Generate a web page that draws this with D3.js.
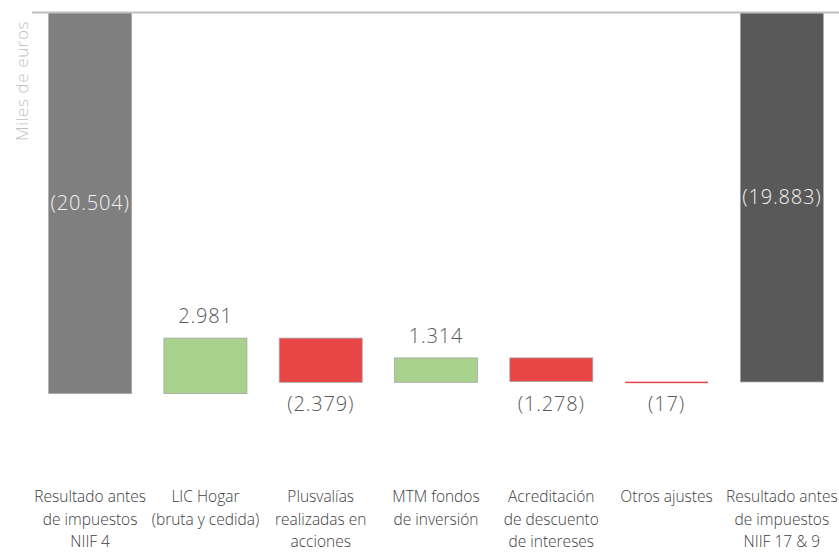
<!DOCTYPE html>
<html>
<head>
<meta charset="utf-8">
<script src="https://cdn.jsdelivr.net/npm/d3@7"></script>
<style>
  html, body { margin: 0; padding: 0; background: #fff; }
  svg { display: block; font-family: "Open Sans", "DejaVu Sans", sans-serif; }
</style>
</head>
<body>
<div id="chart"></div>
<script>
/* Waterfall: Resultado antes de impuestos NIIF 4 -> NIIF 17 & 9 */
var categories = [
    ['Resultado antes', 'de impuestos', 'NIIF 4'],
    ['LIC Hogar', '(bruta y cedida)'],
    ['Plusvalías', 'realizadas en', 'acciones'],
    ['MTM fondos', 'de inversión'],
    ['Acreditación', 'de descuento', 'de intereses'],
    ['Otros ajustes'],
    ['Resultado antes', 'de impuestos', 'NIIF 17 & 9']
];
var values = [-20504, 2981, -2379, 1314, -1278, -17, -19883];
var kinds  = ['total', 'delta', 'delta', 'delta', 'delta', 'delta', 'total'];

var W = 839, H = 552;
var svg = d3.select('#chart').append('svg').attr('width', W).attr('height', H);

var loc = d3.formatLocale({ decimal: ',', thousands: '.', grouping: [3], currency: ['', '€'] });
var fmtN = loc.format(',d');
function fmt(v){ return v < 0 ? '(' + fmtN(-v) + ')' : fmtN(v); }

// running totals
var run = 0, bars = [];
values.forEach(function(v, i){
    var y0, y1;
    if(kinds[i] === 'total'){ y0 = 0; y1 = v; run = v; }
    else { y0 = run; y1 = run + v; run = y1; }
    bars.push({ i: i, v: v, kind: kinds[i], y0: y0, y1: y1 });
});

var x = d3.scaleBand().domain(d3.range(values.length)).range([32.5, 839.5]).paddingInner(0.28).paddingOuter(0.14);
var y = d3.scaleLinear().domain([0, d3.min(bars, function(d){ return Math.min(d.y0, d.y1); })]).range([12.5, 393.5]);

function fillOf(d){
    if(d.kind === 'total') return d.i === 0 ? '#7f7f7f' : '#595959';
    return d.v >= 0 ? '#a9d18e' : '#e84646';
}

// bars
svg.append('g').selectAll('rect').data(bars).join('rect')
    .attr('x', function(d){ return x(d.i); })
    .attr('width', x.bandwidth())
    .attr('y', function(d){ return Math.min(y(d.y0), y(d.y1)); })
    .attr('height', function(d){ return Math.max(1.5, Math.abs(y(d.y1) - y(d.y0))); })
    .attr('fill', fillOf)
    .attr('stroke', function(d){ return Math.abs(y(d.y1) - y(d.y0)) < 3 ? 'none' : '#a6a6a6'; })
    .attr('stroke-width', 0.8);

// zero line
svg.append('line').attr('x1', 32).attr('x2', W).attr('y1', y(0)).attr('y2', y(0))
    .attr('stroke', '#bfbfbf').attr('stroke-width', 2);

// value labels
svg.append('g').selectAll('text').data(bars).join('text')
    .attr('x', function(d){ return x(d.i) + x.bandwidth() / 2; })
    .attr('y', function(d){
        if(d.kind === 'total') return (y(d.y0) + y(d.y1)) / 2;
        return d.v >= 0 ? Math.min(y(d.y0), y(d.y1)) - 22 : Math.max(y(d.y0), y(d.y1)) + 22;
    })
    .attr('dy', '0.35em')
    .attr('text-anchor', 'middle')
    .attr('font-size', 20).attr('font-weight', 300)
    .attr('letter-spacing', 0.8)
    .attr('fill', function(d){ return d.kind === 'total' ? '#f2f2f2' : '#595959'; })
    .text(function(d){ return fmt(d.v); });

// category labels
var cat = svg.append('g').selectAll('text').data(categories).join('text')
    .attr('x', function(d, i){ return x(i) + x.bandwidth() / 2; })
    .attr('y', 497)
    .attr('text-anchor', 'middle')
    .attr('font-size', 15.5).attr('font-weight', 300)
    .attr('fill', '#404040');
cat.selectAll('tspan').data(function(d){ return d; }).join('tspan')
    .attr('x', function(){ return this.parentNode.getAttribute('x'); })
    .attr('dy', function(d, j){ return j === 0 ? '0.35em' : 22.5; })
    .text(function(d){ return d; });

// y axis title
svg.append('text')
    .attr('transform', 'translate(22,81) rotate(-90)')
    .attr('dy', '0.35em')
    .attr('text-anchor', 'middle')
    .attr('font-size', 17).attr('font-weight', 300)
    .attr('letter-spacing', 0.6)
    .attr('fill', '#bfbfbf')
    .text('Miles de euros');
</script>
</body>
</html>
